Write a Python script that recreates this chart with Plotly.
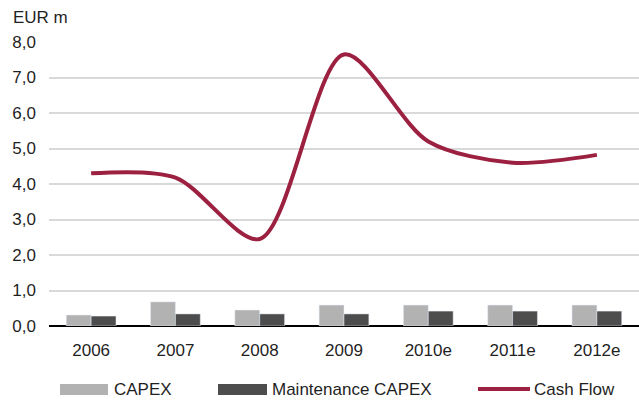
import plotly.graph_objects as go

years = ["2006", "2007", "2008", "2009", "2010e", "2011e", "2012e"]
capex = [0.31, 0.68, 0.45, 0.59, 0.59, 0.59, 0.59]
maint_capex = [0.28, 0.34, 0.34, 0.34, 0.42, 0.42, 0.42]
cash_flow = [4.30, 4.18, 2.45, 7.65, 5.20, 4.60, 4.82]
y_ticks = [0, 1, 2, 3, 4, 5, 6, 7, 8]
y_tick_labels = ["0,0", "1,0", "2,0", "3,0", "4,0", "5,0", "6,0", "7,0", "8,0"]

W, H = 639, 401
ML, MR, MT, MB = 49, 0, 42, 75
FONT = "Liberation Sans, Arial, sans-serif"
TXT = "#1f1f1f"
C_CAPEX = "#b2b2b2"
C_MAINT = "#4d4d4d"
C_CF = "#9c2141"

def px_x(x):
    return (x - ML) / (W - ML - MR)

def px_y(y):
    return (H - MB - y) / (H - MT - MB)

fig = go.Figure()
fig.add_trace(go.Bar(x=years, y=capex, name="CAPEX", marker_color=C_CAPEX,
                     showlegend=False))
fig.add_trace(go.Bar(x=years, y=maint_capex, name="Maintenance CAPEX",
                     marker_color=C_MAINT, showlegend=False))
fig.add_trace(go.Scatter(x=years, y=cash_flow, name="Cash Flow", mode="lines",
                         line=dict(color=C_CF, width=4, shape="spline", smoothing=0.85),
                         showlegend=False))

shapes = []
annotations = []
# manual legend (pixel positions of legend items)
legend_items = [("CAPEX", C_CAPEX, "rect", 60, 108, 112),
                ("Maintenance CAPEX", C_MAINT, "rect", 218, 267, 270),
                ("Cash Flow", C_CF, "line", 478, 530, 532)]
ly = 389
for name, col, kind, x0, x1, tx in legend_items:
    if kind == "rect":
        shapes.append(dict(type="rect", xref="paper", yref="paper",
                           x0=px_x(x0), x1=px_x(x1), y0=px_y(ly + 6), y1=px_y(ly - 5),
                           fillcolor=col, line=dict(width=0)))
    else:
        shapes.append(dict(type="line", xref="paper", yref="paper",
                           x0=px_x(x0), x1=px_x(x1), y0=px_y(ly), y1=px_y(ly),
                           line=dict(color=col, width=4)))
    annotations.append(dict(text=name, xref="paper", yref="paper", x=px_x(tx),
                            y=px_y(ly), xanchor="left", yanchor="middle",
                            showarrow=False, font=dict(family=FONT, size=17, color=TXT)))

annotations.append(dict(text="EUR m", xref="paper", yref="paper", x=px_x(11),
                        y=px_y(17), xanchor="left", yanchor="middle", showarrow=False,
                        font=dict(family=FONT, size=17, color=TXT)))

fig.update_layout(
    width=W, height=H,
    margin=dict(l=ML, r=MR, t=MT, b=MB),
    paper_bgcolor="white", plot_bgcolor="white",
    barmode="group", bargap=0.41, bargroupgap=0,
    font=dict(family=FONT, size=17, color=TXT),
    shapes=shapes, annotations=annotations,
    showlegend=False,
)
fig.update_xaxes(type="category", showgrid=False, showline=False, ticks="",
                 ticklabelstandoff=12, tickfont=dict(family=FONT, size=17, color=TXT))
fig.update_yaxes(range=[0, 8], tickvals=y_ticks, ticktext=y_tick_labels,
                 showgrid=True, gridcolor="#d9d9d9", gridwidth=1.5,
                 zeroline=True, zerolinecolor="#000000", zerolinewidth=1.5,
                 showline=False, ticks="", ticklabelstandoff=12,
                 tickfont=dict(family=FONT, size=17, color=TXT))

fig.write_html("out.html", config={"displayModeBar": False},
               post_script="document.body.style.margin='0px';document.body.style.overflow='hidden';")
